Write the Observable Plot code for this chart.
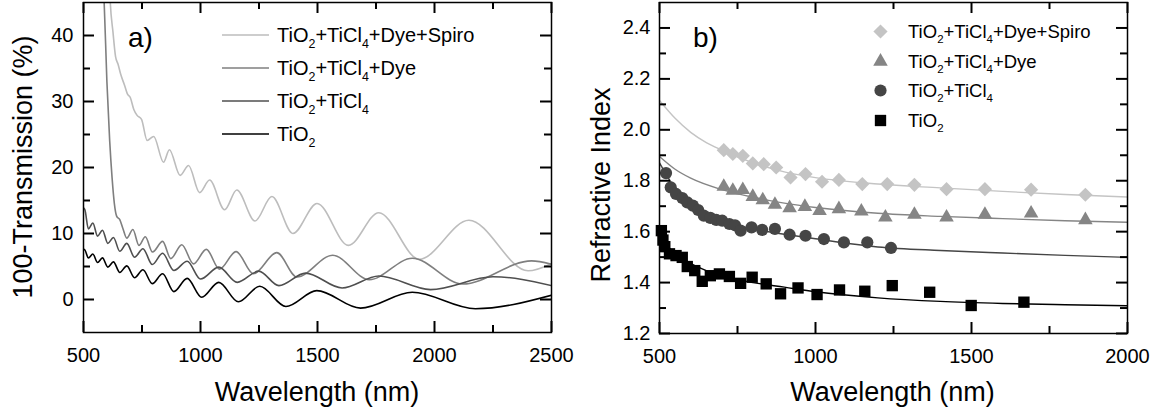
<!DOCTYPE html>
<html><head><meta charset="utf-8">
<script src="https://cdn.jsdelivr.net/npm/d3@7"></script>
<script src="https://cdn.jsdelivr.net/npm/@observablehq/plot@0.6"></script>
<style>
body{margin:0;background:#fff;}
#wrap{position:relative;width:1156px;height:418px;overflow:hidden;font-family:"Liberation Sans",Arial,sans-serif;}
#wrap svg{position:absolute;top:0;}
</style></head><body><div id="wrap"></div>
<script>
// ---------- labels ----------
const seriesNames = ["TiO2+TiCl4+Dye+Spiro", "TiO2+TiCl4+Dye", "TiO2+TiCl4", "TiO2"];

// ---------- panel a: 100-Transmission (%) vs wavelength (nm) ----------
const transSpiro = [[607,52],[614,45.3],[626,40.5],[637,36.8],[648,35.6],[660,34.0],[675,32.5],[687,31.2],[700,30.6],[715,28.8],[729,27.9],[748,27.3],[772,24.1],[800,24.7],[842,20.8],[867,22.7],[913,18.8],[949,20.3],[996,16.2],[1039,18.1],[1103,13.6],[1155,16.6],[1233,11.9],[1305,15.6],[1395,10.0],[1498,14.55],[1632,8.2],[1762,13.15],[1935,6.1],[2147,12.0],[2400,4.35],[2500,5.45]];
const transDye = [[580,50],[588,45.3],[600,33],[612,24],[622,18.5],[632,14.5],[642,12.6],[655,12.1],[668,10.8],[685,9.3],[711,10.6],[737,8.2],[764,9.5],[795,7.2],[838,8.8],[873,6.2],[920,8.3],[970,5.4],[1025,7.6],[1081,4.6],[1152,7.25],[1226,3.9],[1326,7.1],[1412,3.4],[1565,6.7],[1721,3.0],[1905,6.25],[2120,2.35],[2415,5.85],[2500,5.35]];
const transTiCl4 = [[500,13.9],[506,13.6],[521,10.7],[540,11.6],[560,9.6],[581,10.5],[604,8.5],[628,9.4],[655,7.3],[685,8.5],[718,6.4],[754,7.7],[794,5.3],[838,7.0],[886,4.4],[943,5.8],[1000,3.1],[1078,4.9],[1157,2.6],[1249,4.3],[1335,2.1],[1449,4.0],[1605,1.75],[1762,3.55],[1983,1.5],[2250,3.45],[2500,2.1]];
const transTiO2 = [[500,7.6],[506,7.5],[521,6.3],[540,6.9],[560,5.6],[581,6.3],[604,4.9],[628,5.7],[655,4.1],[685,5.1],[718,3.3],[754,4.5],[794,2.4],[838,3.9],[886,1.2],[943,3.2],[1005,0.35],[1078,2.6],[1162,-0.35],[1253,2.0],[1365,-1.05],[1497,1.35],[1684,-1.3],[1905,1.1],[2175,-1.4],[2500,0.65]];

const xTicksA = [500, 1000, 1500, 2000, 2500];
const xMinorA = [750, 1250, 1750, 2250];
const yTicksA = [0, 10, 20, 30, 40];
const yMinorA = [5, 15, 25, 35];

// ---------- panel b: refractive index ----------
const nSpiro = [[706,1.920],[735,1.905],[767,1.898],[799,1.868],[834,1.865],[874,1.852],[920,1.813],[968,1.826],[1021,1.796],[1075,1.803],[1150,1.787],[1230,1.787],[1317,1.784],[1420,1.767],[1543,1.767],[1691,1.765],[1865,1.745]];
const nDye = [[706,1.777],[735,1.761],[767,1.764],[799,1.737],[831,1.724],[870,1.706],[917,1.693],[966,1.698],[1013,1.682],[1075,1.689],[1147,1.680],[1224,1.656],[1317,1.667],[1420,1.656],[1543,1.667],[1691,1.672],[1865,1.646]];
const nTiCl4 = [[521,1.830],[536,1.774],[553,1.748],[573,1.732],[589,1.715],[607,1.702],[624,1.685],[642,1.663],[663,1.654],[682,1.646],[701,1.643],[724,1.630],[742,1.625],[760,1.604],[795,1.617],[829,1.607],[870,1.611],[917,1.588],[968,1.584],[1027,1.571],[1091,1.558],[1166,1.558],[1242,1.536]];
const nTiO2 = [[506,1.604],[511,1.567],[517,1.541],[532,1.513],[553,1.506],[573,1.499],[589,1.463],[613,1.447],[637,1.405],[663,1.427],[692,1.434],[724,1.424],[760,1.397],[797,1.421],[842,1.395],[888,1.356],[944,1.379],[1005,1.353],[1077,1.371],[1158,1.366],[1246,1.388],[1366,1.362],[1499,1.310],[1668,1.323]];

const fitSpiro = [[500,2.115],[550,2.045],[600,1.99],[650,1.95],[700,1.92],[800,1.87],[900,1.835],[1000,1.812],[1200,1.787],[1400,1.772],[1600,1.758],[1800,1.746],[2000,1.736]];
const fitDye = [[500,1.895],[550,1.845],[600,1.81],[700,1.765],[800,1.735],[900,1.712],[1000,1.695],[1200,1.672],[1400,1.66],[1600,1.651],[1800,1.643],[2000,1.637]];
const fitTiCl4 = [[500,1.87],[550,1.77],[600,1.705],[650,1.668],[700,1.642],[800,1.61],[900,1.59],[1000,1.572],[1200,1.540],[1400,1.526],[1600,1.516],[1800,1.507],[2000,1.499]];
const fitTiO2 = [[500,1.575],[550,1.515],[600,1.475],[650,1.447],[700,1.426],[800,1.40],[900,1.382],[1000,1.364],[1200,1.34],[1400,1.326],[1600,1.318],[1800,1.313],[2000,1.309]];

const xTicksB = [500, 1000, 1500, 2000];
const xMinorB = [750, 1250, 1750];
const yTicksB = [1.2, 1.4, 1.6, 1.8, 2.0, 2.2, 2.4];
const yMinorB = [1.3, 1.5, 1.7, 1.9, 2.1, 2.3];

// ---------- styling ----------
const FONT = "'Liberation Sans', Arial, Helvetica, sans-serif";
const colA = ["#bdbdbd", "#7f7f7f", "#4f4f4f", "#000000"];
const colB = ["#c4c4c4", "#858585", "#454545", "#000000"];
const symB = ["diamond2", "triangle", "circle", "square"];
const rB = [6.4, 5.4, 6.1, 6.4];
const TICK_MAJOR = 11, TICK_MINOR = 7;

// inward ticks on all four sides (rules spanning the frame, inset to tick length)
function frameTicks(xMaj, xMin, yMaj, yMin, innerW, innerH) {
  const st = {stroke: "#000", strokeWidth: 2};
  const vt = (arr, len) => [
    Plot.ruleX(arr, {insetTop: innerH - len, ...st}),
    Plot.ruleX(arr, {insetBottom: innerH - len, ...st})
  ];
  const ht = (arr, len) => [
    Plot.ruleY(arr, {insetRight: innerW - len, ...st}),
    Plot.ruleY(arr, {insetLeft: innerW - len, ...st})
  ];
  return [...vt(xMaj, TICK_MAJOR), ...vt(xMin, TICK_MINOR), ...ht(yMaj, TICK_MAJOR), ...ht(yMin, TICK_MINOR)];
}

function chemText(g, x, y, label, size) {
  const t = g.append("text").attr("x", x).attr("y", y).attr("font-size", size)
    .attr("fill", "#000").attr("font-family", FONT).attr("text-anchor", "start");
  const sh = size * 0.32;
  let shifted = false;
  label.split(/(\d+)/).forEach(p => {
    if (!p) return;
    const ts = t.append("tspan").text(p);
    if (/^\d+$/.test(p)) { ts.attr("font-size", size * 0.62).attr("dy", shifted ? 0 : sh); shifted = true; }
    else { if (shifted) ts.attr("dy", -sh); shifted = false; }
  });
}
function plainText(g, x, y, s, size, opts = {}) {
  const t = g.append("text").attr("x", x).attr("y", y).attr("font-size", size)
    .attr("font-family", FONT).attr("fill", "#000").attr("text-anchor", opts.anchor || "start").text(s);
  if (opts.rotate) t.attr("transform", `rotate(${opts.rotate},${x},${y})`);
}

const wrap = document.getElementById("wrap");

// ---------- panel a ----------
{
  const W = 580, H = 418, mL = 83, mR = 29, mT = 2, mB = 86;
  const innerW = W - mL - mR, innerH = H - mT - mB;
  const series = [transSpiro, transDye, transTiCl4, transTiO2];
  const svg = Plot.plot({
    width: W, height: H, marginLeft: mL, marginRight: mR, marginTop: mT, marginBottom: mB,
    style: {fontFamily: FONT, fontSize: "20px", color: "#000", background: "transparent"},
    x: {domain: [500, 2500]},
    y: {domain: [-5, 45]},
    marks: [
      ...series.map((s, i) => Plot.line(s, {x: d => d[0], y: d => d[1], stroke: colA[i], strokeWidth: 1.6, curve: "monotone-x", clip: true})),
      Plot.frame({stroke: "#000", strokeWidth: 1.5}),
      ...frameTicks(xTicksA, xMinorA, yTicksA, yMinorA, innerW, innerH),
      Plot.axisX(xTicksA, {tickSize: 0, tickPadding: 15, fontSize: 20, tickFormat: d => String(d), label: null}),
      Plot.axisY(yTicksA, {tickSize: 0, tickPadding: 10, fontSize: 20, tickFormat: d => String(d), label: null})
    ]
  });
  svg.style.left = "0px";
  wrap.appendChild(svg);
  const g = d3.select(svg).append("g");
  const rows = [35, 68, 101, 134];
  seriesNames.forEach((n, i) => {
    g.append("line").attr("x1", 222).attr("x2", 269).attr("y1", rows[i]).attr("y2", rows[i])
      .attr("stroke", colA[i]).attr("stroke-width", 1.6);
    chemText(g, 277, rows[i] + 7, n, 20);
  });
  plainText(g, 128, 47, "a)", 28);
  plainText(g, 317, 401, "Wavelength (nm)", 27, {anchor: "middle"});
  plainText(g, 32, 167, "100-Transmission (%)", 27, {anchor: "middle", rotate: -90});
}

// ---------- panel b ----------
{
  const W = 576, H = 418, mL = 79, mR = 29, mT = 2, mB = 85;
  const innerW = W - mL - mR, innerH = H - mT - mB;
  const pts = [nSpiro, nDye, nTiCl4, nTiO2];
  const fits = [fitSpiro, fitDye, fitTiCl4, fitTiO2];
  const legendY = [31, 61, 90, 120];
  const svg = Plot.plot({
    width: W, height: H, marginLeft: mL, marginRight: mR, marginTop: mT, marginBottom: mB,
    style: {fontFamily: FONT, fontSize: "20px", color: "#000", background: "transparent"},
    x: {domain: [500, 2000]},
    y: {domain: [1.2, 2.5]},
    marks: [
      ...fits.map((s, i) => Plot.line(s, {x: d => d[0], y: d => d[1], stroke: colB[i], strokeWidth: 1.4, curve: "monotone-x", clip: true})),
      ...[3, 2, 1, 0].map(i => Plot.dot(pts[i], {x: d => d[0], y: d => d[1], symbol: symB[i], fill: colB[i], stroke: "none", r: rB[i]})),
      ...[0, 1, 2, 3].map(i => Plot.dot([seriesNames[i]], {frameAnchor: "top-left", dx: 880 - 580 - mL, dy: legendY[i] - mT, symbol: symB[i], fill: colB[i], stroke: "none", r: rB[i]})),
      Plot.frame({stroke: "#000", strokeWidth: 1.5}),
      ...frameTicks(xTicksB, xMinorB, yTicksB, yMinorB, innerW, innerH),
      Plot.axisX(xTicksB, {tickSize: 0, tickPadding: 15, fontSize: 20, tickFormat: d => String(d), label: null}),
      Plot.axisY(yTicksB, {tickSize: 0, tickPadding: 9, fontSize: 20, tickFormat: d3.format(".1f"), label: null})
    ]
  });
  svg.style.left = "580px";
  wrap.appendChild(svg);
  const g = d3.select(svg).append("g");
  seriesNames.forEach((n, i) => chemText(g, 908 - 580, legendY[i] + 6.5, n, 18.5));
  plainText(g, 113, 47, "b)", 28);
  plainText(g, 312.5, 401, "Wavelength (nm)", 27, {anchor: "middle"});
  plainText(g, 30, 185, "Refractive Index", 27, {anchor: "middle", rotate: -90});
}
</script></body></html>
